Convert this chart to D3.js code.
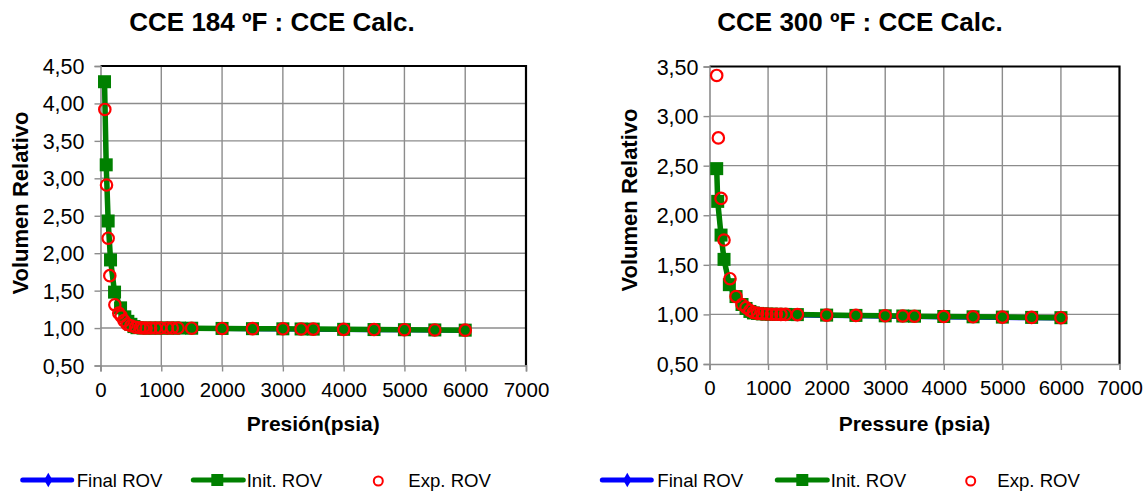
<!DOCTYPE html>
<html>
<head>
<meta charset="utf-8">
<script src="https://cdn.jsdelivr.net/npm/d3@7"></script>
<style>
  html, body { margin: 0; padding: 0; background: #fff; }
  svg { display: block; font-family: "Liberation Sans", Arial, sans-serif; }
</style>
</head>
<body>
<svg id="chart" width="1148" height="493"></svg>
<script>
// ---- CCE 184 ºF ----
const p184Init   = [66, 94, 126, 165, 231, 330, 400, 450, 500, 550, 600, 700, 800, 900, 1000, 1100, 1200, 1300, 1500, 2000, 2500, 3000, 3300, 3500, 4000, 4500, 5000, 5500, 6000];
const v184Init   = [4.29, 3.18, 2.43, 1.91, 1.48, 1.27, 1.15, 1.09, 1.05, 1.02, 1.005, 1.00, 1.00, 1.00, 1.00, 1.00, 1.00, 1.00, 0.998, 0.995, 0.992, 0.99, 0.988, 0.986, 0.983, 0.98, 0.978, 0.975, 0.972];
const v184Final  = [4.27, 3.16, 2.41, 1.89, 1.46, 1.26, 1.14, 1.08, 1.04, 1.01, 0.997, 0.992, 0.992, 0.992, 0.992, 0.991, 0.991, 0.991, 0.99, 0.987, 0.984, 0.982, 0.98, 0.978, 0.975, 0.972, 0.97, 0.967, 0.964];
const p184Exp    = [71, 99, 126, 153, 236, 300, 340, 385, 440, 500, 577, 650, 700, 750, 824, 906, 988, 1100, 1180, 1275, 1500, 2000, 2500, 3000, 3300, 3500, 4000, 4500, 5000, 5500, 6000];
const v184Exp    = [3.92, 2.91, 2.20, 1.70, 1.31, 1.20, 1.16, 1.10, 1.05, 1.03, 1.01, 1.005, 1.00, 1.00, 1.00, 1.00, 1.00, 1.00, 1.00, 1.00, 0.998, 0.995, 0.992, 0.99, 0.988, 0.986, 0.983, 0.98, 0.978, 0.975, 0.972];

// ---- CCE 300 ºF ----
const p300Init   = [123, 140, 197, 248, 339, 453, 555, 624, 690, 750, 820, 900, 980, 1060, 1140, 1220, 1300, 1500, 2000, 2500, 3000, 3300, 3500, 4000, 4500, 5000, 5500, 6000];
const v300Init   = [2.47, 2.14, 1.80, 1.555, 1.30, 1.18, 1.10, 1.06, 1.03, 1.015, 1.01, 1.005, 1.003, 1.002, 1.001, 1.00, 1.00, 0.998, 0.993, 0.99, 0.986, 0.984, 0.982, 0.979, 0.976, 0.973, 0.97, 0.967];
const v300Final  = [2.46, 2.13, 1.79, 1.545, 1.29, 1.17, 1.09, 1.05, 1.02, 1.006, 1.001, 0.996, 0.994, 0.993, 0.992, 0.991, 0.991, 0.989, 0.984, 0.981, 0.977, 0.975, 0.973, 0.97, 0.967, 0.964, 0.961, 0.958];
const p300Exp    = [123, 151, 197, 248, 350, 453, 555, 624, 690, 750, 820, 900, 980, 1060, 1140, 1220, 1300, 1500, 2000, 2500, 3000, 3300, 3500, 4000, 4500, 5000, 5500, 6000];
const v300Exp    = [3.41, 2.78, 2.17, 1.75, 1.36, 1.18, 1.10, 1.07, 1.04, 1.02, 1.01, 1.006, 1.004, 1.002, 1.001, 1.00, 1.00, 0.998, 0.993, 0.99, 0.986, 0.984, 0.982, 0.979, 0.976, 0.973, 0.97, 0.967];

// ---- axis ticks and labels ----
const xTicks      = [0, 1000, 2000, 3000, 4000, 5000, 6000, 7000];
const yTicks184   = [0.5, 1.0, 1.5, 2.0, 2.5, 3.0, 3.5, 4.0, 4.5];
const yTicks300   = [0.5, 1.0, 1.5, 2.0, 2.5, 3.0, 3.5];
const titles      = ["CCE 184 ºF : CCE Calc.", "CCE 300 ºF : CCE Calc."];
const xTitles     = ["Presión(psia)", "Pressure (psia)"];
const yTitles     = ["Volumen  Relativo", "Volumen Relativo"];
const legendNames = ["Final ROV", "Init. ROV", "Exp. ROV"];

const BLUE = "#0000ff", GREEN = "#008000", RED = "#ff0000", GRID = "#8c8c8c";
const svg = d3.select("#chart");
const fmtComma = v => d3.format(".2f")(v).replace(".", ",");
const zip = (xs, ys) => xs.map((x, i) => [x, ys[i]]);

const panels = [
  {
    title: titles[0], xTitle: xTitles[0], yTitle: yTitles[0],
    left: 100.5, right: 526, top: 66, bottom: 365.5, yMax: 4.5, yTicks: yTicks184,
    yPad: 10, xLabelY: 397,
    titleX: 272, yTitleX: 20, yTitleMid: 203,
    legend: { x: 22.7, diamond: 25.6, t1: 54, g0: 170.6, g1: 220.6, sq: 194.6, t2: 224, circ: 355.6, t3: 385.6 },
    final: zip(p184Init, v184Final), init: zip(p184Init, v184Init), exp: zip(p184Exp, v184Exp)
  },
  {
    title: titles[1], xTitle: xTitles[1], yTitle: yTitles[1],
    left: 709.5, right: 1119.5, top: 66.5, bottom: 364, yMax: 3.5, yTicks: yTicks300,
    yPad: 5, xLabelY: 394.5,
    titleX: 860, yTitleX: 629, yTitleMid: 200,
    legend: { x: 602.3, diamond: 25, t1: 55, g0: 175, g1: 225, sq: 200, t2: 228.4, circ: 368.4, t3: 395 },
    final: zip(p300Init, v300Final), init: zip(p300Init, v300Init), exp: zip(p300Exp, v300Exp)
  }
];

panels.forEach(pn => {
  const x = d3.scaleLinear().domain([0, 7000]).range([pn.left, pn.right]);
  const y = d3.scaleLinear().domain([0.5, pn.yMax]).range([pn.bottom, pn.top]);
  const g = svg.append("g");

  // grid
  g.append("g").selectAll("line").data(xTicks.slice(1, -1)).join("line")
    .attr("x1", d => x(d)).attr("x2", d => x(d)).attr("y1", pn.top).attr("y2", pn.bottom)
    .attr("stroke", GRID).attr("stroke-width", 1.4);
  g.append("g").selectAll("line").data(pn.yTicks.slice(1, -1)).join("line")
    .attr("x1", pn.left).attr("x2", pn.right).attr("y1", d => y(d)).attr("y2", d => y(d))
    .attr("stroke", GRID).attr("stroke-width", 1.4);

  // top and right frame
  g.append("path")
    .attr("d", `M${pn.left},${pn.top}H${pn.right}V${pn.bottom}`)
    .attr("fill", "none").attr("stroke", "#000").attr("stroke-width", 2.2);

  // axes
  const xAxis = g.append("g").attr("transform", `translate(0,${pn.bottom})`)
    .call(d3.axisBottom(x).tickValues(xTicks).tickFormat(d3.format("d")).tickSize(6));
  xAxis.selectAll(".tick text").attr("y", pn.xLabelY - pn.bottom).attr("dy", null)
    .style("font-size", "20.5px");
  const yAxis = g.append("g").attr("transform", `translate(${pn.left},0)`)
    .call(d3.axisLeft(y).tickValues(pn.yTicks).tickFormat(fmtComma).tickSize(6).tickPadding(pn.yPad));
  yAxis.selectAll(".tick text").attr("dy", "0.35em").style("font-size", "21.5px");
  [xAxis, yAxis].forEach(a => {
    a.select(".domain").attr("stroke", GRID).attr("stroke-width", 1.6);
    a.selectAll(".tick line").attr("stroke", GRID).attr("stroke-width", 1.4);
    a.selectAll(".tick text").attr("fill", "#000")
      .style("font-family", "'Liberation Sans', Arial, sans-serif");
  });

  const line = d3.line().x(d => x(d[0])).y(d => y(d[1]));

  // Final ROV
  g.append("path").datum(pn.final).attr("d", line)
    .attr("fill", "none").attr("stroke", BLUE).attr("stroke-width", 4);
  g.append("g").selectAll("path").data(pn.final).join("path")
    .attr("d", d3.symbol(d3.symbolDiamond, 40))
    .attr("transform", d => `translate(${x(d[0])},${y(d[1])})`).attr("fill", BLUE);

  // Init. ROV
  g.append("path").datum(pn.init).attr("d", line)
    .attr("fill", "none").attr("stroke", GREEN).attr("stroke-width", 5.5).attr("stroke-linejoin", "round");
  g.append("g").selectAll("rect").data(pn.init).join("rect")
    .attr("x", d => x(d[0]) - 6.5).attr("y", d => y(d[1]) - 6.5)
    .attr("width", 13).attr("height", 13).attr("fill", GREEN);

  // Exp. ROV
  g.append("g").selectAll("circle").data(pn.exp).join("circle")
    .attr("cx", d => x(d[0])).attr("cy", d => y(d[1])).attr("r", 5.7)
    .attr("fill", "none").attr("stroke", RED).attr("stroke-width", 2.2);

  // titles
  g.append("text").attr("x", pn.titleX).attr("y", 31).attr("text-anchor", "middle")
    .style("font-size", "26px").style("font-weight", "bold").text(pn.title);
  g.append("text").attr("x", (pn.left + pn.right) / 2).attr("y", 431).attr("text-anchor", "middle")
    .style("font-size", "21px").style("font-weight", "bold").text(pn.xTitle);
  g.append("text").attr("transform", `translate(${pn.yTitleX + 8},${pn.yTitleMid}) rotate(-90)`)
    .attr("text-anchor", "middle").style("font-size", "22px").style("font-weight", "bold").text(pn.yTitle);

  // legend
  const L = pn.legend, ly = 480, lx = L.x;
  const lg = g.append("g").style("font-size", "18.6px");
  lg.append("line").attr("x1", lx).attr("x2", lx + 49).attr("y1", ly).attr("y2", ly)
    .attr("stroke", BLUE).attr("stroke-width", 5).attr("stroke-linecap", "round");
  lg.append("path").attr("d", d3.symbol(d3.symbolDiamond, 60))
    .attr("transform", `translate(${lx + L.diamond},${ly})`).attr("fill", BLUE);
  lg.append("text").attr("x", lx + L.t1).attr("y", ly + 7).text(legendNames[0]);

  lg.append("line").attr("x1", lx + L.g0).attr("x2", lx + L.g1).attr("y1", ly).attr("y2", ly)
    .attr("stroke", GREEN).attr("stroke-width", 5).attr("stroke-linecap", "round");
  lg.append("rect").attr("x", lx + L.sq - 6).attr("y", ly - 6).attr("width", 12).attr("height", 12).attr("fill", GREEN);
  lg.append("text").attr("x", lx + L.t2).attr("y", ly + 7).text(legendNames[1]);

  lg.append("circle").attr("cx", lx + L.circ).attr("cy", ly + 1).attr("r", 4.5)
    .attr("fill", "none").attr("stroke", RED).attr("stroke-width", 2);
  lg.append("text").attr("x", lx + L.t3).attr("y", ly + 7).text(legendNames[2]);
});
</script>
</body>
</html>
